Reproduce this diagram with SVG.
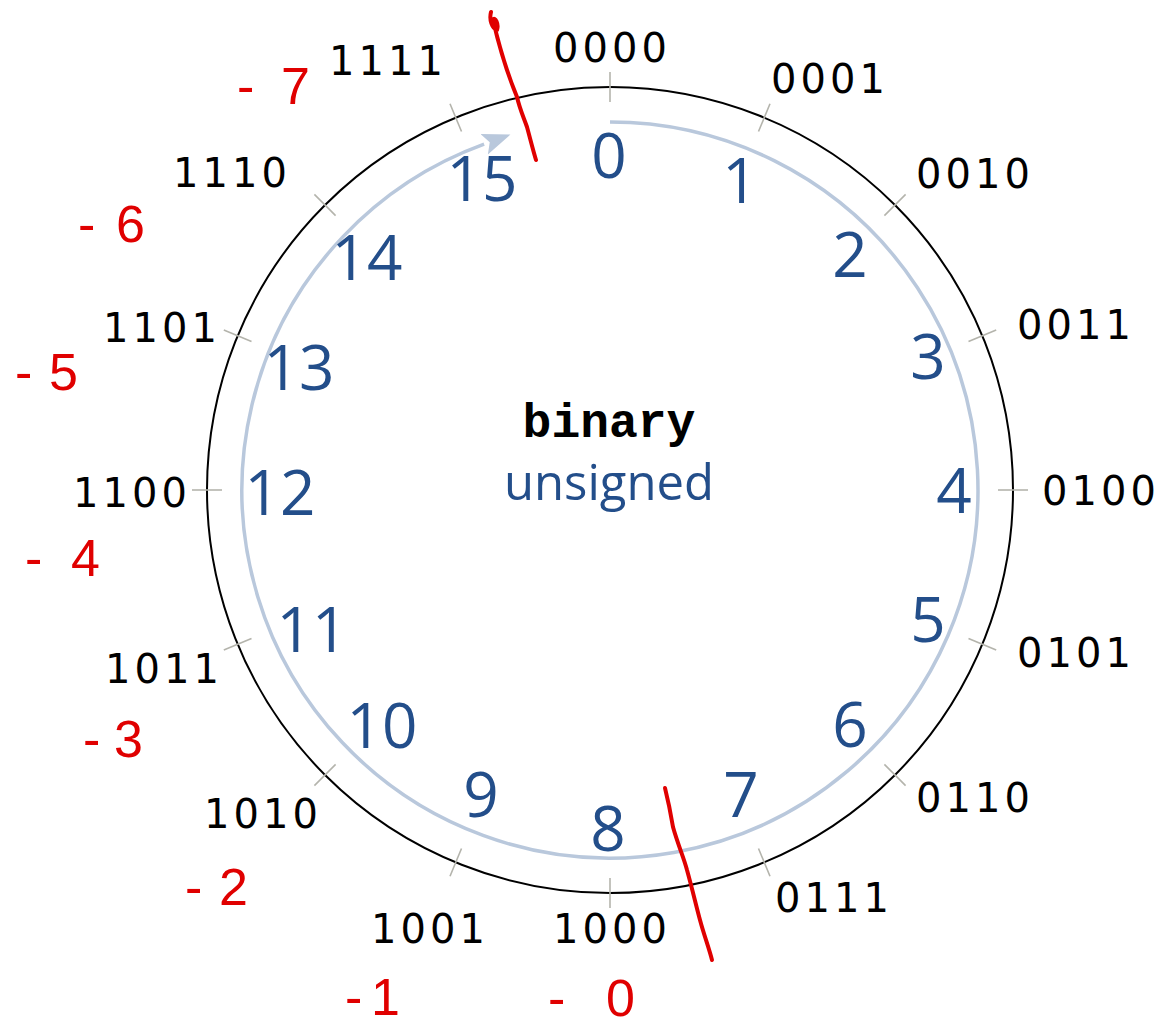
<svg xmlns="http://www.w3.org/2000/svg" width="1163" height="1030" viewBox="0 0 1163 1030">
  <defs>
    <style>
      .bin { font-family: "DejaVu Sans", "Liberation Sans", sans-serif; font-size: 40px; letter-spacing: 4px; fill: #000; text-anchor: middle; }
      .num { font-family: "Open Sans", "Noto Sans", sans-serif; font-size: 62px; fill: #234e8a; text-anchor: middle; }
      .tick { stroke: #b4b4ac; stroke-width: 1.6; fill: none; }
      .ann { font-family: "Liberation Sans", sans-serif; font-size: 52px; fill: #e00000; }
      .slash { stroke: #e00000; stroke-width: 4; fill: none; stroke-linecap: round; stroke-linejoin: round; }
      .mono { font-family: "Liberation Mono", "Courier New", "Nimbus Mono PS", "FreeMono", "Liberation Serif", monospace; font-size: 48px; font-weight: bold; fill: #000; text-anchor: middle; }
      .uns { font-family: "Open Sans", "Noto Sans", sans-serif; font-size: 49px; fill: #234e8a; text-anchor: middle; }
    </style>
    <marker id="arrow" markerUnits="userSpaceOnUse" markerWidth="30" markerHeight="24" refX="0" refY="11" orient="auto">
      <path d="M0,0 L28,11 L0,22 L6,11 z" fill="#b9c8dc"/>
    </marker>
  </defs>
  <rect width="1163" height="1030" fill="#fff"/>

  <g id="dial">
    <circle cx="610" cy="490" r="403" fill="none" stroke="#000" stroke-width="2"/>
  </g>

  <g id="connectors">
    <path d="M 610 122 A 368 368 0 1 1 484.1 144.2" fill="none" stroke="#b9c8dc" stroke-width="3.5" marker-end="url(#arrow)"/>
  </g>

  <g id="ticks">
    <line class="tick" x1="610" y1="102" x2="610" y2="72"/>
    <line class="tick" x1="758.5" y1="131.5" x2="770" y2="103.8"/>
    <line class="tick" x1="884.4" y1="215.6" x2="905.6" y2="194.4"/>
    <line class="tick" x1="968.5" y1="341.5" x2="996.2" y2="330"/>
    <line class="tick" x1="998" y1="490" x2="1028" y2="490"/>
    <line class="tick" x1="968.5" y1="638.5" x2="996.2" y2="650"/>
    <line class="tick" x1="884.4" y1="764.4" x2="905.6" y2="785.6"/>
    <line class="tick" x1="758.5" y1="848.5" x2="770" y2="876.2"/>
    <line class="tick" x1="610" y1="878" x2="610" y2="908"/>
    <line class="tick" x1="461.5" y1="848.5" x2="450" y2="876.2"/>
    <line class="tick" x1="335.6" y1="764.4" x2="314.4" y2="785.6"/>
    <line class="tick" x1="251.5" y1="638.5" x2="223.8" y2="650"/>
    <line class="tick" x1="222" y1="490" x2="192" y2="490"/>
    <line class="tick" x1="251.5" y1="341.5" x2="223.8" y2="330"/>
    <line class="tick" x1="335.6" y1="215.6" x2="314.4" y2="194.4"/>
    <line class="tick" x1="461.5" y1="131.5" x2="450" y2="103.8"/>
  </g>

  <g id="binary-labels">
    <text class="bin" x="612" y="62">0000</text>
    <text class="bin" x="830" y="93">0001</text>
    <text class="bin" x="975" y="188">0010</text>
    <text class="bin" x="1076" y="339">0011</text>
    <text class="bin" x="1101" y="505">0100</text>
    <text class="bin" x="1076" y="667">0101</text>
    <text class="bin" x="975" y="812">0110</text>
    <text class="bin" x="834" y="912">0111</text>
    <text class="bin" x="612" y="943">1000</text>
    <text class="bin" x="430" y="943">1001</text>
    <text class="bin" x="263" y="828">1010</text>
    <text class="bin" x="164" y="683">1011</text>
    <text class="bin" x="132" y="507">1100</text>
    <text class="bin" x="162" y="342">1101</text>
    <text class="bin" x="232" y="187">1110</text>
    <text class="bin" x="388" y="75">1111</text>
  </g>

  <g id="unsigned-labels">
    <text class="num" x="609" y="178">0</text>
    <text class="num" x="740" y="203">1</text>
    <text class="num" x="850" y="277">2</text>
    <text class="num" x="928" y="379">3</text>
    <text class="num" x="954" y="513">4</text>
    <text class="num" x="928" y="642">5</text>
    <text class="num" x="850" y="747">6</text>
    <text class="num" x="741" y="817">7</text>
    <text class="num" x="608" y="851">8</text>
    <text class="num" x="481" y="817">9</text>
    <text class="num" x="382" y="748">10</text>
    <text class="num" x="312" y="652">11</text>
    <text class="num" x="280" y="515">12</text>
    <text class="num" x="299" y="390">13</text>
    <text class="num" x="367" y="280">14</text>
    <text class="num" x="482" y="201">15</text>
  </g>

  <g id="legend">
    <text class="mono" x="609" y="437">binary</text>
    <text class="uns" x="609" y="500">unsigned</text>
  </g>

  <g id="annotations">
    <path class="slash" d="M491,12 C489,20 492,28 497,30 C499,24 495,16 493,20 C500,50 510,80 517,97 C520,110 524,118 527,127 C530,138 533,150 536,160"/>
    <path class="slash" d="M665,788 C668,800 671,815 673,827 C678,845 684,858 687,870 C692,888 696,905 700,920 C704,935 709,948 712,960"/>
    <text class="ann" x="237" y="104" textLength="73" lengthAdjust="spacing">-7</text>
    <text class="ann" x="78" y="242" textLength="67" lengthAdjust="spacing">-6</text>
    <text class="ann" x="15" y="390" textLength="63" lengthAdjust="spacing">-5</text>
    <text class="ann" x="25" y="576" textLength="75" lengthAdjust="spacing">-4</text>
    <text class="ann" x="83" y="757" textLength="60" lengthAdjust="spacing">-3</text>
    <text class="ann" x="185" y="905" textLength="63" lengthAdjust="spacing">-2</text>
    <text class="ann" x="345" y="1015" textLength="55" lengthAdjust="spacing" font-size="46">-1</text>
    <text class="ann" x="548" y="1016" textLength="87" lengthAdjust="spacing" font-size="46">-0</text>
  </g>
</svg>
